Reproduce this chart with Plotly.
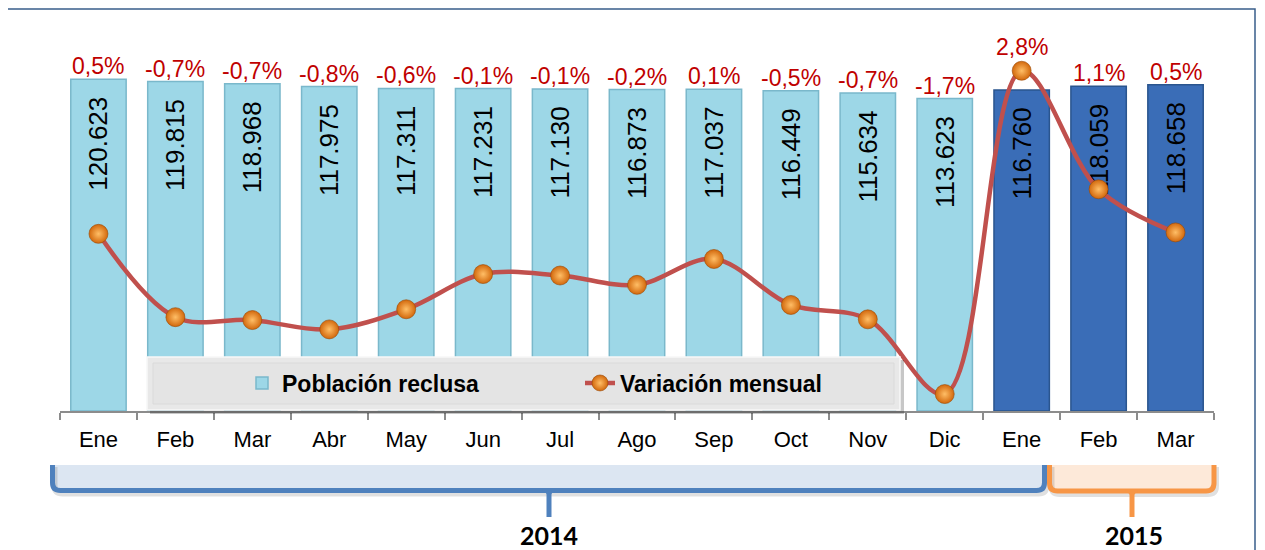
import plotly.graph_objects as go

# ---------------- data ----------------
months = ["Ene", "Feb", "Mar", "Abr", "May", "Jun", "Jul", "Ago", "Sep", "Oct", "Nov", "Dic",
          "Ene", "Feb", "Mar"]
years = ["2014"] * 12 + ["2015"] * 3
poblacion = [120623, 119815, 118968, 117975, 117311, 117231, 117130, 116873, 117037,
             116449, 115634, 113623, 116760, 118059, 118658]
variacion = [0.49, -0.67, -0.71, -0.84, -0.56, -0.07, -0.09, -0.22, 0.14, -0.50, -0.70,
             -1.74, 2.76, 1.11, 0.51]
variacion_lbl = ["0,5%", "-0,7%", "-0,7%", "-0,8%", "-0,6%", "-0,1%", "-0,1%", "-0,2%", "0,1%",
                 "-0,5%", "-0,7%", "-1,7%", "2,8%", "1,1%", "0,5%"]
year_labels = ["2014", "2015"]

# ---------------- layout geometry (screen pixels; page body adds an 8px offset) ----------------
W, H = 1265, 550
OFF = 8
SX0, SX1, SY0, SY1 = 60, 1214, 26, 411      # plot area on screen
L = SX0 - OFF
T = SY0 - OFF
R = W - (SX1 - OFF)
B = H - (SY1 - OFF)
PW = SX1 - SX0
PH = SY1 - SY0

Y1_RANGE = [0, 140000]
Y2_RANGE = [-1.976, 3.383]


def px(x):
    return (x - SX0) / PW


def py(y):
    return (SY1 - y) / PH


x_idx = list(range(len(months)))
bar_colors = ["#9DD7E7" if y == "2014" else "#3A6DB7" for y in years]
bar_lines = ["#7AB8CB" if y == "2014" else "#2A558E" for y in years]
NB = "\u00a0"
bar_text = [f"{v:,}".replace(",", ".") + NB * 2 for v in poblacion]

fig = go.Figure()
fig.add_trace(go.Bar(
    x=x_idx, y=poblacion, name="Población reclusa",
    marker=dict(color=bar_colors, line=dict(color=bar_lines, width=1.5)),
    text=bar_text, textposition="inside", insidetextanchor="end", textangle=-90,
    textfont=dict(family="Liberation Sans", size=26, color="black"),
    constraintext="none", cliponaxis=False, yaxis="y",
))
fig.add_trace(go.Scatter(
    x=x_idx, y=variacion, name="Variación mensual", mode="lines+markers",
    line=dict(color="#C0504D", width=4.5, shape="spline", smoothing=1.0),
    marker=dict(size=19, color="#D2680C",
                gradient=dict(type="radial", color="#FFBE66"),
                line=dict(color="#9A4A06", width=0.6)),
    yaxis="y2", cliponaxis=False,
))

annotations = []
for i, (v, p, t) in enumerate(zip(poblacion, variacion, variacion_lbl)):
    bar_top_px = PH * (v - Y1_RANGE[0]) / (Y1_RANGE[1] - Y1_RANGE[0])
    mk_top_px = PH * (p - Y2_RANGE[0]) / (Y2_RANGE[1] - Y2_RANGE[0]) + 10
    if mk_top_px > bar_top_px:
        ann = dict(x=i, y=p, xref="x", yref="y2", yshift=9)
    else:
        ann = dict(x=i, y=v, xref="x", yref="y", yshift=-2)
    ann.update(text=t, showarrow=False, yanchor="bottom",
               font=dict(family="Liberation Sans", size=23, color="#C00000"))
    annotations.append(ann)

# year labels
for lbl, xc in zip(year_labels, [549, 1134]):
    annotations.append(dict(x=px(xc), y=py(535), xref="paper", yref="paper", text=f"<b>{lbl}</b>",
                            showarrow=False, xanchor="center", yanchor="middle",
                            font=dict(family="Lato", size=25, color="black")))

shapes = []


def rect(x0, y0, x1, y1, **kw):
    d = dict(type="rect", xref="paper", yref="paper",
             x0=px(x0), x1=px(x1), y0=py(y1), y1=py(y0))
    d.update(kw)
    return d


def path(pts_cmds, **kw):
    s = ""
    for c in pts_cmds:
        if isinstance(c, str):
            s += c
        else:
            s += f"{px(c[0]):.5f},{py(c[1]):.5f} "
    d = dict(type="path", xref="paper", yref="paper", path=s)
    d.update(kw)
    return d


# outer frame
shapes.append(rect(7, 9, 1255, 600, line=dict(color="#385D8A", width=1.5),
                   fillcolor="rgba(0,0,0,0)", layer="below"))

# legend box with shadow
shapes.append(rect(150, 360, 904, 414, fillcolor="rgba(0,0,0,0.22)", line=dict(width=0), layer="above"))
shapes.append(rect(147, 357, 900, 410, fillcolor="#E8E8E8",
                   line=dict(color="#F7F7F7", width=1.5), layer="above"))
shapes.append(rect(153, 363, 894, 404, fillcolor="#E4E4E4",
                   line=dict(color="#DADADA", width=1), layer="above"))


def bracket(xl, xr, xc, ytop, ybot, ytip, color, fill):
    out = []
    out.append(rect(xl, ytop, xr, ybot, fillcolor=fill, line=dict(width=0), layer="below"))
    r = 8
    out.append(path(["M", (xl + 2, ytop + 2), "L", (xl + 2, ybot + 3 - r), "Q", (xl + 2, ybot + 3),
                     (xl + 2 + r, ybot + 3), "L", (xr + 2 - r, ybot + 3), "Q", (xr + 2, ybot + 3),
                     (xr + 2, ybot + 3 - r), "L", (xr + 2, ytop + 2)],
                    line=dict(color="rgba(0,0,0,0.12)", width=6), layer="below"))
    out.append(path(["M", (xl, ytop), "L", (xl, ybot - r), "Q", (xl, ybot), (xl + r, ybot),
                     "L", (xr - r, ybot), "Q", (xr, ybot), (xr, ybot - r), "L", (xr, ytop)],
                    line=dict(color=color, width=5), layer="below"))
    out.append(path(["M", (xc - 6, ybot), "Q", (xc, ybot), (xc, ybot + 7), "Q", (xc, ybot),
                     (xc + 6, ybot), "Z"],
                    line=dict(color=color, width=3), fillcolor=color, layer="below"))
    out.append(path(["M", (xc, ybot), "L", (xc, ytip)],
                    line=dict(color=color, width=5), layer="below"))
    return out


shapes += bracket(52.5, 1044.5, 549, 465, 490.5, 517, "#4F81BD", "#DCE6F2")
shapes += bracket(1049.5, 1214, 1132, 465, 491, 517, "#F79646", "#FDE9D9")

fig.update_layout(
    width=W, height=H,
    margin=dict(l=L, r=R, t=T, b=B, pad=0),
    paper_bgcolor="white", plot_bgcolor="white",
    bargap=0.28,
    showlegend=True,
    legend=dict(orientation="h", x=px(242), y=py(383), xanchor="left", yanchor="middle",
                bgcolor="rgba(0,0,0,0)", borderwidth=0,
                entrywidth=293, entrywidthmode="pixels",
                font=dict(family="Liberation Sans", size=23, color="black", weight="bold")),
    xaxis=dict(
        range=[-0.5, 14.5], tickmode="array", tickvals=x_idx, ticktext=months,
        ticks="", showline=True, linecolor="#8C8C8C", linewidth=1.5, showgrid=False,
        zeroline=False, ticklabelstandoff=8,
        tickfont=dict(family="Liberation Sans", size=22, color="black"),
        minor=dict(tickmode="linear", tick0=-0.5, dtick=1, ticks="outside", ticklen=7,
                   tickcolor="#8C8C8C", tickwidth=1.5, showgrid=False),
    ),
    yaxis=dict(range=Y1_RANGE, visible=False, showgrid=False, zeroline=False),
    yaxis2=dict(range=Y2_RANGE, overlaying="y", visible=False, showgrid=False,
                zeroline=False),
    annotations=annotations,
    shapes=shapes,
)

fig.write_html("out.html")
